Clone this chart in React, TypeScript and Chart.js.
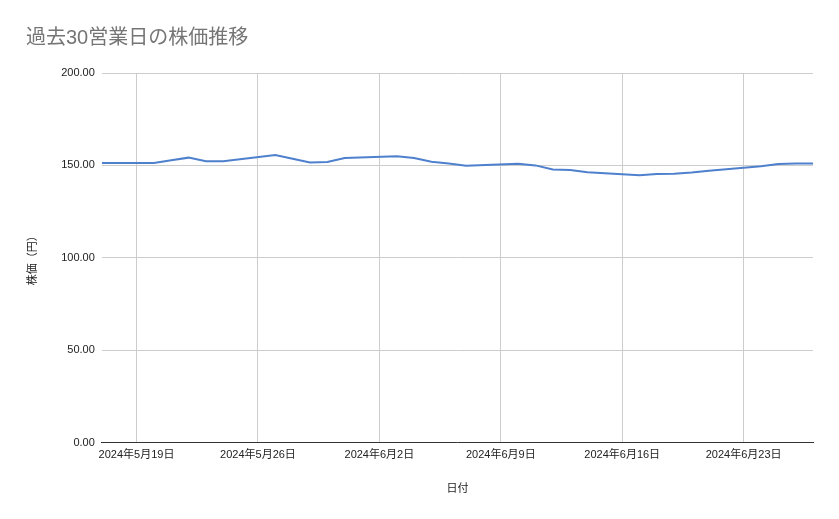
import { useEffect, useRef } from 'react';
import { Chart, registerables } from 'chart.js';

Chart.register(...registerables);

// days counted from 2024-05-17 (the first business day shown)
const startDate = new Date(2024, 4, 17);
const dayOffsets = [0, 3, 4, 5, 6, 7, 10, 11, 12, 13, 14, 17, 18, 19, 20, 21, 24, 25, 26, 27, 28, 31, 32, 33, 34, 35, 38, 39, 40, 41];
const prices = [151.3, 151.3, 152.8, 154.2, 152.3, 152.2, 155.6, 153.6, 151.6, 151.8, 154.0, 154.9, 154.0, 152.0, 151.0, 149.8, 150.9, 150.0, 147.8, 147.5, 146.3, 144.7, 145.3, 145.5, 146.1, 147.1, 149.5, 150.7, 151.0, 151.0];
const weekTicks = [2, 9, 16, 23, 30, 37];

const FONT = "'Liberation Sans', Arial, 'Noto Sans CJK JP', sans-serif";

function dayLabel(offset: number) {
  const d = new Date(startDate);
  d.setDate(d.getDate() + offset);
  return `${d.getFullYear()}年${d.getMonth() + 1}月${d.getDate()}日`;
}

export default function App() {
  const chartRef = useRef<HTMLCanvasElement>(null);
  const chartInstance = useRef<Chart | null>(null);

  useEffect(() => {
    if (!chartRef.current) return;
    if (chartInstance.current) chartInstance.current.destroy();

    const ctx = chartRef.current.getContext('2d');
    if (!ctx) return;

    chartInstance.current = new Chart(ctx, {
      type: 'line',
      data: {
        datasets: [
          {
            label: '株価',
            data: dayOffsets.map((d, i) => ({ x: d, y: prices[i] })),
            borderColor: '#4e80cd',
            backgroundColor: '#4e80cd',
            borderWidth: 2,
            pointRadius: 0,
            tension: 0,
            fill: false,
          },
        ],
      },
      options: {
        animation: false,
        responsive: false,
        maintainAspectRatio: false,
        layout: { padding: { left: 26, right: 26, top: 26, bottom: 23 } },
        plugins: {
          legend: { display: false },
          tooltip: { enabled: false },
          title: {
            display: true,
            text: '過去30営業日の株価推移',
            align: 'start',
            color: '#757575',
            font: { family: FONT, size: 20, weight: 'normal' },
            padding: { top: 0, bottom: 23 },
          },
        },
        scales: {
          x: {
            type: 'linear',
            min: 0,
            max: 41,
            afterBuildTicks: (axis) => {
              axis.ticks = weekTicks.map((v) => ({ value: v }));
            },
            ticks: {
              callback: (v) => dayLabel(Number(v)),
              color: '#222222',
              font: { family: FONT, size: 11 },
              maxRotation: 0,
              autoSkip: false,
              padding: 6,
            },
            grid: { color: '#cccccc', drawTicks: false },
            border: { display: true, color: '#333333', width: 1 },
            title: {
              display: true,
              text: '日付',
              color: '#222222',
              font: { family: FONT, size: 11 },
              padding: { top: 15, bottom: 0 },
            },
          },
          y: {
            min: 0,
            max: 200,
            ticks: {
              stepSize: 50,
              callback: (v) => Number(v).toFixed(2),
              color: '#222222',
              font: { family: FONT, size: 11 },
              padding: 7,
            },
            grid: { color: '#cccccc', drawTicks: false },
            border: { display: false },
            title: {
              display: true,
              text: '株価（円）',
              color: '#222222',
              font: { family: FONT, size: 11 },
              padding: { top: 0, bottom: 15 },
            },
          },
        },
      },
    });

    return () => {
      if (chartInstance.current) {
        chartInstance.current.destroy();
        chartInstance.current = null;
      }
    };
  }, []);

  return (
    <div style={{ position: 'absolute', left: 0, top: 0, width: 839, height: 519, background: '#ffffff' }}>
      <canvas ref={chartRef} width={839} height={519} style={{ width: 839, height: 519 }}></canvas>
    </div>
  );
}
